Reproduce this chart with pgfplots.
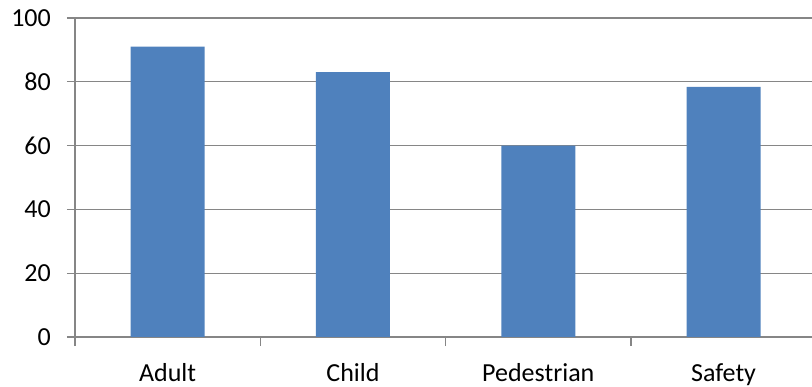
\documentclass[border=0pt]{standalone}
\usepackage{pgfplots}
\pgfplotsset{compat=1.18}
\usepackage{fontspec}
\setmainfont{Carlito}
\definecolor{barblue}{HTML}{4F81BD}
\definecolor{axgray}{HTML}{868686}
\begin{document}
\begin{tikzpicture}
\begin{axis}[
  at={(75bp,50bp)}, anchor=south west,
  scale only axis,
  width=737bp, height=319bp,
  xmin=-0.5, xmax=3.477,
  ymin=0, ymax=100,
  axis x line=bottom, axis y line=left,
  axis line style={-, draw=axgray, line width=1.3bp},
  ytick={0,20,...,100},
  ymajorgrids,
  grid style={draw=axgray, line width=1.3bp},
  xtick={0,1,2,3},
  xticklabels={Adult,Child,Pedestrian,Safety},
  minor xtick={-0.5,0.5,1.5,2.5},
  major x tick style={draw=none},
  minor x tick style={draw=axgray, line width=1.3bp},
  major y tick style={draw=axgray, line width=1.3bp},
  tick align=outside,
  major tick length=8bp,
  minor tick length=9bp,
  /pgf/number format/assume math mode=true,
  tick label style={font=\fontsize{26bp}{31bp}\selectfont, text=black},
  yticklabel style={anchor=east, inner sep=0pt, xshift=-16bp},
  xticklabel style={anchor=north, inner sep=0pt, yshift=-18bp},
  clip=false,
]
\addplot[ybar, bar width=74bp, fill=barblue, draw=none]
  coordinates {(0,91) (1,83) (2,60) (3,78.4)};
\end{axis}
\pgfresetboundingbox
\path (0,0) rectangle (812bp,387bp);
\end{tikzpicture}
\end{document}
